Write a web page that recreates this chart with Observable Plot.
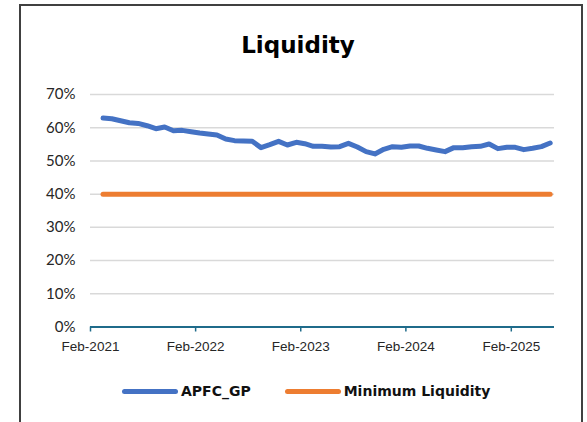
<!DOCTYPE html>
<html>
<head>
<meta charset="utf-8">
<script src="https://cdn.jsdelivr.net/npm/d3@7"></script>
<script src="https://cdn.jsdelivr.net/npm/@observablehq/plot@0.6"></script>
<style>
  html, body { margin: 0; padding: 0; background: #fff; }
  #page { position: relative; width: 587px; height: 422px; overflow: hidden; font-family: "Lato", "DejaVu Sans", sans-serif; }
  #frame { position: absolute; left: 19px; top: 4px; width: 564px; height: 440px; border: 2px solid #404040; box-sizing: border-box; }
  #title { position: absolute; left: 0; top: 0; width: 587px; height: 70px; box-sizing: border-box; padding-left: 9px; text-align: center; font-family: "DejaVu Sans", sans-serif; font-weight: bold; font-size: 23px; line-height: 90px; color: #000; }
  #chart { position: absolute; left: 0; top: 70px; }
  #legend { position: absolute; left: 0; top: 380px; height: 22px; display: flex; align-items: center; padding-left: 122px; font-family: "DejaVu Sans", sans-serif; font-weight: bold; font-size: 14px; color: #111; }
  .sw { display: inline-block; width: 56px; height: 5px; border-radius: 3px; margin-right: 3px; }
  .item { display: flex; align-items: center; margin-right: 34px; }
</style>
</head>
<body>
<div id="page">
  <div id="frame"></div>
  <div id="title">Liquidity</div>
  <div id="chart"></div>
  <div id="legend"></div>
</div>
<script>
// Monthly observations, Mar-2021 .. Jun-2025
const months = [
  "2021-03","2021-04","2021-05","2021-06","2021-07","2021-08","2021-09","2021-10","2021-11","2021-12",
  "2022-01","2022-02","2022-03","2022-04","2022-05","2022-06","2022-07","2022-08","2022-09","2022-10","2022-11","2022-12",
  "2023-01","2023-02","2023-03","2023-04","2023-05","2023-06","2023-07","2023-08","2023-09","2023-10","2023-11","2023-12",
  "2024-01","2024-02","2024-03","2024-04","2024-05","2024-06","2024-07","2024-08","2024-09","2024-10","2024-11","2024-12",
  "2025-01","2025-02","2025-03","2025-04","2025-05","2025-06"
];
const apfcGP = [
  62.9,62.7,62.1,61.5,61.3,60.6,59.7,60.2,59.1,59.2,
  58.8,58.4,58.1,57.8,56.6,56.1,56.0,55.9,54.0,54.9,55.9,54.8,
  55.6,55.2,54.4,54.4,54.2,54.3,55.3,54.2,52.8,52.1,53.5,54.3,
  54.1,54.5,54.5,53.8,53.3,52.8,54.0,54.0,54.3,54.4,55.1,53.7,
  54.1,54.1,53.4,53.8,54.3,55.4
];
const minLiquidity = months.map(() => 40);
const seriesNames = ["APFC_GP", "Minimum Liquidity"];
const seriesColors = ["#4472C4", "#ED7D31"];
const yTicks = [0, 0.1, 0.2, 0.3, 0.4, 0.5, 0.6, 0.7];
const xTickLabels = ["2021-02", "2022-02", "2023-02", "2024-02", "2025-02"];
const xDomain = ["2021-02", "2025-07"];

const parse = d3.utcParse("%Y-%m");
const mid = (m) => { const a = parse(m); const b = d3.utcMonth.offset(a, 1); return new Date((+a + +b) / 2); };

const rows = [];
months.forEach((m, i) => {
  rows.push({date: mid(m), value: apfcGP[i] / 100, series: seriesNames[0]});
  rows.push({date: mid(m), value: minLiquidity[i] / 100, series: seriesNames[1]});
});

const axisColor = "#1F6B8A";
const chart = Plot.plot({
  width: 587,
  height: 290,
  marginTop: 24,
  marginBottom: 33.5,
  marginLeft: 90,
  marginRight: 33,
  style: {fontFamily: "Lato, sans-serif", fontSize: "14px", color: "#262626", background: "transparent"},
  x: {type: "utc", domain: xDomain.map(parse), ticks: xTickLabels.map(parse), tickFormat: d3.utcFormat("%b-%Y"), label: null},
  y: {domain: [0, 0.7], ticks: yTicks, tickFormat: d3.format(".0%"), label: null},
  color: {domain: seriesNames, range: seriesColors},
  marks: [
    Plot.gridY(yTicks, {stroke: "#D9D9D9", strokeOpacity: 1, strokeWidth: 1.5}),
    Plot.axisY({ticks: yTicks, tickSize: 0, tickPadding: 15, tickFormat: d3.format(".0%"), fontSize: 15, label: null}),
    Plot.ruleY([0], {stroke: axisColor, strokeWidth: 1.8}),
    Plot.axisX({ticks: xTickLabels.map(parse), tickSize: 5, stroke: axisColor, strokeWidth: 1.5, tickPadding: 9, tickFormat: d3.utcFormat("%b-%Y"), fontFamily: "'Liberation Sans', Arial, sans-serif", fontSize: 13.5, label: null}),
    Plot.line(rows, {x: "date", y: "value", z: "series", stroke: "series", strokeWidth: 5, strokeLinecap: "round", strokeLinejoin: "round"})
  ]
});
document.getElementById("chart").appendChild(chart);

const legend = document.getElementById("legend");
seriesNames.forEach((n, i) => {
  const it = document.createElement("div");
  it.className = "item";
  const sw = document.createElement("span");
  sw.className = "sw";
  sw.style.background = seriesColors[i];
  const t = document.createElement("span");
  t.textContent = n;
  it.appendChild(sw); it.appendChild(t);
  legend.appendChild(it);
});
</script>
</body>
</html>
